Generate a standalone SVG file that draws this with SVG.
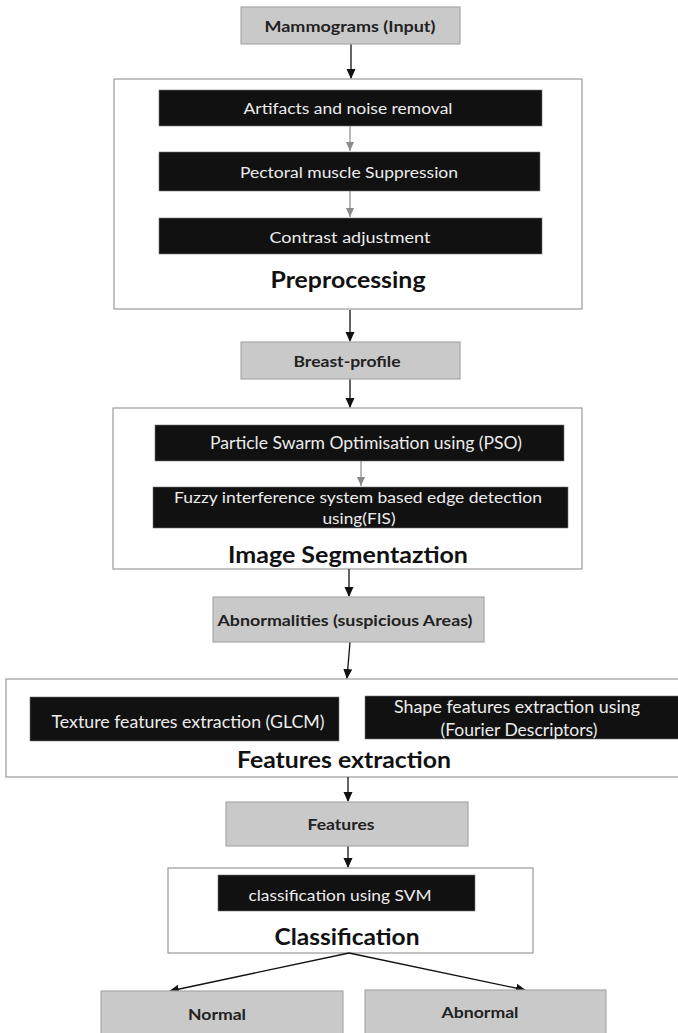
<svg xmlns="http://www.w3.org/2000/svg" width="678" height="1033" viewBox="0 0 678 1033">
<defs>
<marker id="ah" markerWidth="10" markerHeight="10" refX="9" refY="5" orient="auto" markerUnits="userSpaceOnUse">
<path d="M0,0.5 L10,5 L0,9.5 Z" fill="#111"/>
</marker>
<marker id="ahg" markerWidth="10" markerHeight="10" refX="9" refY="5" orient="auto" markerUnits="userSpaceOnUse">
<path d="M0,1 L9,5 L0,9 Z" fill="#8a8a8a"/>
</marker>
</defs>
<style>
.frame{fill:#fff;stroke:#9a9a9a;stroke-width:1.2}
.gbox{fill:#c9c9c9;stroke:#a8a8a8;stroke-width:1.2}
.bbox{fill:#111;stroke:#777;stroke-width:0.6}
.gt{font-family:Lato,"Liberation Sans",sans-serif;font-weight:bold;fill:#222;text-anchor:middle}
.bt{font-family:Lato,"Liberation Sans",sans-serif;fill:#ececec;text-anchor:middle}
.ht{font-family:Lato,"Liberation Sans",sans-serif;font-weight:bold;fill:#111;text-anchor:middle;font-size:22px}
.c{stroke:#111;stroke-width:1.3;fill:none;marker-end:url(#ah)}
.cg{stroke:#8a8a8a;stroke-width:1.2;fill:none;marker-end:url(#ahg)}
</style>
<rect width="678" height="1033" fill="#fff"/>

<g id="preprocessing">
<rect class="frame" x="114" y="79" width="468" height="230"/>
<text class="ht" x="348" y="288" textLength="155" lengthAdjust="spacingAndGlyphs">Preprocessing</text>
</g>
<g id="segmentation">
<rect class="frame" x="113" y="408" width="469" height="161"/>
<text class="ht" x="348" y="563" textLength="240" lengthAdjust="spacingAndGlyphs">Image Segmentaztion</text>
</g>
<g id="featuresextraction">
<rect class="frame" x="6" y="679" width="680" height="98"/>
<text class="ht" x="344" y="768" textLength="214" lengthAdjust="spacingAndGlyphs">Features extraction</text>
</g>
<g id="classification">
<rect class="frame" x="168" y="868" width="365" height="85"/>
<text class="ht" x="347" y="945" textLength="145" lengthAdjust="spacingAndGlyphs">Classification</text>
</g>

<g id="connectors">
<line class="c" x1="351" y1="44" x2="351" y2="78"/>
<line class="cg" x1="350" y1="126" x2="350" y2="151"/>
<line class="cg" x1="350" y1="191" x2="350" y2="217"/>
<line class="c" x1="350" y1="310" x2="350" y2="341"/>
<line class="c" x1="350" y1="379" x2="350" y2="407"/>
<line class="cg" x1="361" y1="461" x2="361" y2="486"/>
<line class="c" x1="349" y1="569" x2="349" y2="596"/>
<line class="c" x1="350" y1="642" x2="347" y2="678"/>
<line class="c" x1="348" y1="777" x2="348" y2="801"/>
<line class="c" x1="348" y1="846" x2="348" y2="867"/>
<line class="c" x1="349" y1="953" x2="170" y2="991"/>
<line class="c" x1="349" y1="953" x2="525" y2="990"/>
</g>

<g id="mammograms">
<rect class="gbox" x="241" y="7" width="219" height="37"/>
<text class="gt" x="350" y="32" font-size="15" textLength="171" lengthAdjust="spacingAndGlyphs">Mammograms (Input)</text>
</g>
<g id="artifacts">
<rect class="bbox" x="159" y="90" width="383" height="36"/>
<text class="bt" x="348" y="114" font-size="15.5" textLength="209" lengthAdjust="spacingAndGlyphs">Artifacts and noise removal</text>
</g>
<g id="pectoral">
<rect class="bbox" x="159" y="152" width="381" height="39"/>
<text class="bt" x="349" y="178" font-size="15.5" textLength="218" lengthAdjust="spacingAndGlyphs">Pectoral muscle Suppression</text>
</g>
<g id="contrast">
<rect class="bbox" x="159" y="218" width="383" height="36"/>
<text class="bt" x="350" y="243" font-size="15.5" textLength="161" lengthAdjust="spacingAndGlyphs">Contrast  adjustment</text>
</g>
<g id="breastprofile">
<rect class="gbox" x="241" y="342" width="219" height="37"/>
<text class="gt" x="347" y="367" font-size="15.5" textLength="107" lengthAdjust="spacingAndGlyphs">Breast-profile</text>
</g>
<g id="pso">
<rect class="bbox" x="155" y="425" width="409" height="36"/>
<text class="bt" x="366" y="449" font-size="16.5" textLength="312" lengthAdjust="spacingAndGlyphs">Particle Swarm Optimisation  using (PSO)</text>
</g>
<g id="fis">
<rect class="bbox" x="153" y="487" width="415" height="41"/>
<text class="bt" x="358" y="503" font-size="16" textLength="368" lengthAdjust="spacingAndGlyphs">Fuzzy interference system based edge detection</text>
<text class="bt" x="359" y="524" font-size="16" textLength="73" lengthAdjust="spacingAndGlyphs">using(FIS)</text>
</g>
<g id="abnormalities">
<rect class="gbox" x="213" y="597" width="271" height="45"/>
<text class="gt" x="345" y="626" font-size="15" textLength="255" lengthAdjust="spacingAndGlyphs">Abnormalities (suspicious Areas)</text>
</g>
<g id="texture">
<rect class="bbox" x="30" y="697" width="309" height="44"/>
<text class="bt" x="188" y="728" font-size="16.5" textLength="273" lengthAdjust="spacingAndGlyphs">Texture features extraction  (GLCM)</text>
</g>
<g id="shape">
<rect class="bbox" x="365" y="696" width="320" height="43"/>
<text class="bt" x="517" y="713" font-size="16.5" textLength="246" lengthAdjust="spacingAndGlyphs">Shape features extraction  using</text>
<text class="bt" x="519" y="736" font-size="16.5" textLength="157" lengthAdjust="spacingAndGlyphs">(Fourier Descriptors)</text>
</g>
<g id="features">
<rect class="gbox" x="226" y="802" width="242" height="44"/>
<text class="gt" x="341" y="830" font-size="15" textLength="67" lengthAdjust="spacingAndGlyphs">Features</text>
</g>
<g id="svm">
<rect class="bbox" x="218" y="875" width="257" height="36"/>
<text class="bt" x="340" y="901" font-size="16" textLength="183" lengthAdjust="spacingAndGlyphs">classification using SVM</text>
</g>
<g id="normal">
<rect class="gbox" x="101" y="991" width="242" height="50"/>
<text class="gt" x="217" y="1020" font-size="15.5" textLength="58" lengthAdjust="spacingAndGlyphs">Normal</text>
</g>
<g id="abnormal">
<rect class="gbox" x="365" y="990" width="241" height="50"/>
<text class="gt" x="480" y="1018" font-size="15.5" textLength="77" lengthAdjust="spacingAndGlyphs">Abnormal</text>
</g>
</svg>
